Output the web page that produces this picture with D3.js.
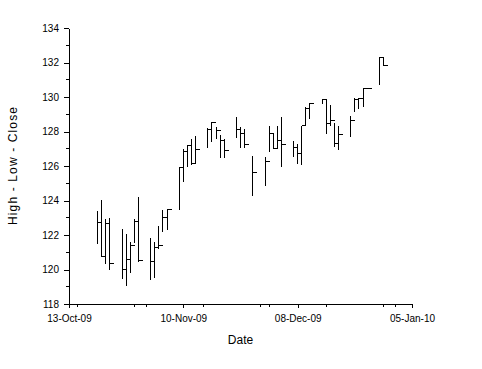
<!DOCTYPE html>
<html>
<head>
<meta charset="utf-8">
<script src="https://cdn.jsdelivr.net/npm/d3@7"></script>
<style>
  body { margin: 0; background: #fff; }
  svg text { font-family: "Liberation Sans", Arial, sans-serif; fill: #000; }
  .axis path, .axis line { stroke: #000; shape-rendering: crispEdges; }
</style>
</head>
<body>
<div id="chart"></div>
<script>
// trading days
const dates = ['2009-10-20', '2009-10-21', '2009-10-22', '2009-10-23',
  '2009-10-26', '2009-10-27', '2009-10-28', '2009-10-29', '2009-10-30',
  '2009-11-02', '2009-11-03', '2009-11-04', '2009-11-05', '2009-11-06',
  '2009-11-09', '2009-11-10', '2009-11-11', '2009-11-12', '2009-11-13',
  '2009-11-16', '2009-11-17', '2009-11-18', '2009-11-19', '2009-11-20',
  '2009-11-23', '2009-11-24', '2009-11-25', '2009-11-27',
  '2009-11-30', '2009-12-01', '2009-12-02', '2009-12-03', '2009-12-04',
  '2009-12-07', '2009-12-08', '2009-12-09', '2009-12-10', '2009-12-11',
  '2009-12-14', '2009-12-15', '2009-12-16', '2009-12-17', '2009-12-18',
  '2009-12-21', '2009-12-22', '2009-12-23', '2009-12-24', '2009-12-25',
  '2009-12-28', '2009-12-29']
const highs = [123.39, 124.03, 122.93, 122.97,
  122.35, 122.08, 121.61, 122.91, 124.22,
  121.84, 121.6, 122.5, 123.45, 123.45,
  125.93, 126.97, 127.2, 127.55, 127.74,
  128.19, 128.57, 128.24, 127.8, 127.55,
  128.82, 128.28, 128.13, 126.58,
  126.54, 128.34, 127.9, 128.34, 128.82,
  127.45, 127.26, 128.34, 129.44, 129.67,
  129.87, 129.8, 129.54, 128.47, 128.32,
  128.9, 129.92, 129.92, 130.5, 130.5,
  132.3, 132.3]
const lows = [121.46, 120.74, 120.32, 119.97,
  119.45, 119.06, 119.82, 121.52, 120.45,
  119.39, 119.5, 121.2, 122.2, 122.3,
  123.45, 125.09, 125.93, 126.04, 126.16,
  127.03, 127.37, 127.55, 126.48, 126.45,
  127.6, 127.03, 127.03, 124.25,
  124.86, 126.79, 127.0, 127.0, 125.96,
  126.54, 126.1, 126.06, 128.35, 128.71,
  129.58, 127.88, 128.32, 127.08, 126.93,
  127.66, 129.14, 129.28, 129.44, 130.5,
  130.7, 131.81]
const closes = [122.74, 120.78, 122.64, 120.32,
  120.0, 120.59, 121.42, 122.81, 120.51,
  120.49, 121.3, 121.4, 123.03, 123.45,
  125.93, 126.85, 127.2, 126.16, 126.97,
  128.14, 128.53, 128.07, 127.49, 126.91,
  128.14, 127.86, 127.22, 125.65,
  126.25, 127.9, 127.0, 127.5, 127.22,
  127.06, 126.75, 128.34, 129.35, 129.64,
  129.87, 128.44, 128.64, 127.31, 127.84,
  128.61, 129.87, 129.92, 130.5, 130.5,
  132.3, 131.81]

const xTicks = ['2009-10-13', '2009-11-10', '2009-12-08', '2010-01-05']
const yTicks = [118, 120, 122, 124, 126, 128, 130, 132, 134]

const parse = d3.utcParse('%Y-%m-%d')
const data = dates.map((d, i) => ({
  date: parse(d),
  high: highs[i],
  low: lows[i],
  close: closes[i]
}))

const width = 482
const height = 369
const margin = { top: 28, right: 70, bottom: 65, left: 69 }
const innerW = width - margin.left - margin.right
const innerH = height - margin.top - margin.bottom

const svg = d3.select('#chart').append('svg')
  .attr('width', width)
  .attr('height', height)

const g = svg.append('g')
  .attr('transform', 'translate(' + margin.left + ',' + margin.top + ')')

const xScale = d3.scaleUtc()
  .domain([parse(xTicks[0]), parse(xTicks[xTicks.length - 1])])
  .range([0, innerW])

const yScale = d3.scaleLinear()
  .domain([118, 134])
  .range([innerH, 0])

const fmt = d3.utcFormat('%d-%b-%y')

// minor ticks halfway between the major ones (14 days)
const majorMs = xTicks.map(t => +parse(t))
const minorX = d3.utcDay.every(14).range(parse(xTicks[0]), d3.utcDay.offset(parse(xTicks[3]), 1))
  .filter(d => !majorMs.includes(+d))
const minorY = d3.range(119, 134, 2)

// x axis
const xAxis = g.append('g')
  .attr('class', 'axis x')
  .attr('transform', 'translate(0,' + innerH + ')')
  .call(d3.axisBottom(xScale)
    .tickValues(xTicks.map(parse))
    .tickFormat(fmt)
    .tickSize(4)
    .tickSizeOuter(0))
xAxis.selectAll('text').attr('font-size', 10).attr('dy', '1.1em')
xAxis.selectAll('.minor')
  .data(minorX)
  .enter().append('line')
  .attr('class', 'minor')
  .attr('x1', d => xScale(d)).attr('x2', d => xScale(d))
  .attr('y1', 0).attr('y2', 2.5)
  .attr('stroke', '#000')

// y axis
const yAxis = g.append('g')
  .attr('class', 'axis y')
  .call(d3.axisLeft(yScale)
    .tickValues(yTicks)
    .tickSize(5)
    .tickSizeOuter(0)
    .tickPadding(5))
yAxis.selectAll('text').attr('font-size', 10)
yAxis.selectAll('.minor')
  .data(minorY)
  .enter().append('line')
  .attr('class', 'minor')
  .attr('x1', -3).attr('x2', 0)
  .attr('y1', d => yScale(d)).attr('y2', d => yScale(d))
  .attr('stroke', '#000')

// high-low bars with close tick to the right
const tickW = 4.5
const bars = g.append('g')
  .attr('stroke', '#000')
  .attr('stroke-width', 1)
  .attr('shape-rendering', 'crispEdges')

bars.selectAll('.hl')
  .data(data)
  .enter().append('line')
  .attr('class', 'hl')
  .attr('x1', d => xScale(d.date)).attr('x2', d => xScale(d.date))
  .attr('y1', d => yScale(d.high)).attr('y2', d => yScale(d.low))

bars.selectAll('.cl')
  .data(data)
  .enter().append('line')
  .attr('class', 'cl')
  .attr('x1', d => xScale(d.date)).attr('x2', d => xScale(d.date) + tickW)
  .attr('y1', d => yScale(d.close)).attr('y2', d => yScale(d.close))

// axis titles
svg.append('text')
  .attr('x', margin.left + innerW / 2)
  .attr('y', 344)
  .attr('text-anchor', 'middle')
  .attr('font-size', 12)
  .text('Date')

svg.append('text')
  .attr('transform', 'translate(17,' + (margin.top + innerH / 2) + ') rotate(-90)')
  .attr('text-anchor', 'middle')
  .attr('font-size', 12)
  .attr('textLength', 118)
  .attr('lengthAdjust', 'spacing')
  .text('High - Low - Close')
</script>
</body>
</html>
